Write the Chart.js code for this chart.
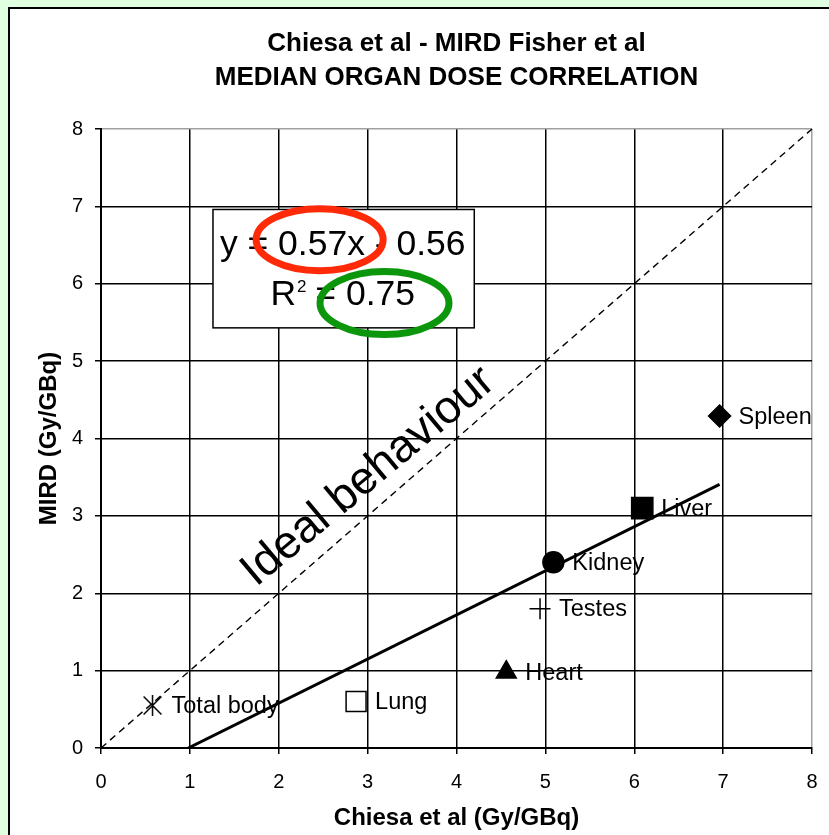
<!DOCTYPE html>
<html>
<head>
<meta charset="utf-8">
<script src="https://cdn.jsdelivr.net/npm/chart.js@4.4.1/dist/chart.umd.min.js"></script>
<style>
  html, body { margin: 0; padding: 0; background: #e0ffe0; overflow: hidden; }
  #panel { position: absolute; left: 8px; top: 7px; width: 900px; height: 900px;
           background: #fff; border-left: 2.5px solid #000; border-top: 2.5px solid #000; }
  #c { position: absolute; left: 0; top: 0; }
</style>
</head>
<body>
<div id="panel"></div>
<canvas id="c" width="829" height="835"></canvas>
<script>
// ---- data ----
const organs = ['Total body', 'Lung', 'Heart', 'Testes', 'Kidney', 'Liver', 'Spleen'];
const chiesaDose = [0.58, 2.87, 4.56, 4.94, 5.09, 6.09, 6.96];   // Gy/GBq
const mirdDose   = [0.55, 0.60, 0.98, 1.80, 2.40, 3.10, 4.29];   // Gy/GBq
const axisTicks  = [0, 1, 2, 3, 4, 5, 6, 7, 8];
const fitSlope = 0.57;
const fitIntercept = -0.56;
const fitR2 = 0.75;

// ---- marker styles ----
function asterisk(size, lw) {
  const c = document.createElement('canvas');
  c.width = size; c.height = size;
  const g = c.getContext('2d');
  const m = size / 2, a = size / 2 - 2;
  g.strokeStyle = '#000'; g.lineWidth = lw;
  g.beginPath();
  g.moveTo(m - a * 0.85, m - a * 0.85); g.lineTo(m + a * 0.85, m + a * 0.85);
  g.moveTo(m + a * 0.85, m - a * 0.85); g.lineTo(m - a * 0.85, m + a * 0.85);
  g.moveTo(m, m - a); g.lineTo(m, m + a);
  g.stroke();
  return c;
}
const markerStyle  = [asterisk(25, 1.5), 'rect', 'triangle', 'cross', 'circle', 'rect', 'rectRot'];
const markerRadius = [12, 14.1, 11.5, 10.5, 10.5, 15, 11];
const markerFill   = ['#000', '#fff', '#000', '#000', '#000', '#000', '#000'];

const axisMin = axisTicks[0], axisMax = axisTicks[axisTicks.length - 1];
const fitStart = -fitIntercept / fitSlope;
const fitEnd = Math.max(...chiesaDose);

// ---- annotation layout (data coordinates, pixel radii) ----
const noteBox = { x0: 1.26, x1: 4.20, y0: 6.96, y1: 5.43, cx: 2.72, base1: 6.37, base2: 5.72 };
const rings = [
  { x: 2.46, y: 6.57, rx: 63.5, ry: 31, color: '#ff2a08' },
  { x: 3.19, y: 5.75, rx: 64.5, ry: 31.5, color: '#0c960c' }
];
const idealText = { x: 3.10, y: 3.38, angle: -40, size: 46 };

const SANS = '"Liberation Sans", Arial, sans-serif';

const annotate = {
  id: 'annotate',
  afterDatasetsDraw(chart) {
    const ctx = chart.ctx, xs = chart.scales.x, ys = chart.scales.y;
    const X = v => xs.getPixelForValue(v), Y = v => ys.getPixelForValue(v);
    ctx.save();

    // organ labels beside each marker
    ctx.fillStyle = '#000';
    ctx.font = '23.5px ' + SANS;
    ctx.textAlign = 'left';
    ctx.textBaseline = 'middle';
    organs.forEach((name, i) => ctx.fillText(name, X(chiesaDose[i]) + 19, Y(mirdDose[i]) + 1));

    // diagonal caption
    ctx.save();
    ctx.translate(X(idealText.x), Y(idealText.y));
    ctx.rotate(idealText.angle * Math.PI / 180);
    ctx.font = idealText.size + 'px ' + SANS;
    ctx.textAlign = 'center';
    ctx.textBaseline = 'alphabetic';
    ctx.fillText('Ideal behaviour', 0, 0);
    ctx.restore();

    // regression equation box
    const bx0 = X(noteBox.x0), bx1 = X(noteBox.x1), by0 = Y(noteBox.y0), by1 = Y(noteBox.y1);
    ctx.fillStyle = '#fff';
    ctx.fillRect(bx0, by0, bx1 - bx0, by1 - by0);
    ctx.strokeStyle = '#000';
    ctx.lineWidth = 1.5;
    ctx.strokeRect(bx0, by0, bx1 - bx0, by1 - by0);

    ctx.fillStyle = '#000';
    ctx.textBaseline = 'alphabetic';
    ctx.textAlign = 'center';
    ctx.font = '35.5px ' + SANS;
    const sign = fitIntercept < 0 ? '-' : '+';
    ctx.fillText('y = ' + fitSlope.toFixed(2) + 'x ' + sign + ' ' + Math.abs(fitIntercept).toFixed(2),
                 X(noteBox.cx), Y(noteBox.base1));

    const rest = ' = ' + fitR2.toFixed(2);
    ctx.textAlign = 'left';
    const wR = ctx.measureText('R').width, wRest = ctx.measureText(rest).width;
    ctx.font = '17px ' + SANS;
    const wSup = ctx.measureText('2').width;
    const start = X(noteBox.cx) - (wR + wSup + wRest) / 2, b2 = Y(noteBox.base2);
    ctx.font = '35.5px ' + SANS;
    ctx.fillText('R', start, b2);
    ctx.fillText(rest, start + wR + wSup, b2);
    ctx.font = '17px ' + SANS;
    ctx.fillText('2', start + wR + 1, b2 - 13);

    // highlight rings
    ctx.lineWidth = 7;
    rings.forEach(r => {
      ctx.strokeStyle = r.color;
      ctx.beginPath();
      ctx.ellipse(X(r.x), Y(r.y), r.rx, r.ry, 0, 0, Math.PI * 2);
      ctx.stroke();
    });
    ctx.restore();
  }
};

const gridColor = c => (c.tick && c.tick.value === axisMax) ? '#a0a0a0' : '#000';

new Chart(document.getElementById('c'), {
  type: 'scatter',
  data: {
    datasets: [
      {
        label: 'Ideal',
        data: [{ x: axisMin, y: axisMin }, { x: axisMax, y: axisMax }],
        showLine: true, borderColor: '#000', borderWidth: 1.4, borderDash: [7, 5],
        pointRadius: 0, clip: false
      },
      {
        label: 'Fit',
        data: [fitStart, fitEnd].map(x => ({ x, y: fitSlope * x + fitIntercept })),
        showLine: true, borderColor: '#000', borderWidth: 3, pointRadius: 0
      },
      {
        label: 'Organs',
        data: organs.map((o, i) => ({ x: chiesaDose[i], y: mirdDose[i] })),
        pointStyle: markerStyle, pointRadius: markerRadius, pointHoverRadius: markerRadius,
        backgroundColor: markerFill, borderColor: '#000', borderWidth: 1.5
      }
    ]
  },
  options: {
    responsive: false,
    animation: false,
    devicePixelRatio: 1,
    layout: { padding: { left: 0, top: 0, right: 17, bottom: 0 } },
    plugins: {
      legend: { display: false },
      tooltip: { enabled: false },
      title: {
        display: true,
        fullSize: false,
        text: ['Chiesa et al - MIRD Fisher et al', 'MEDIAN ORGAN DOSE CORRELATION'],
        color: '#000',
        font: { family: SANS, size: 26, weight: 'bold', lineHeight: 34 / 26 },
        padding: { top: 27, bottom: 34 }
      }
    },
    scales: {
      x: {
        type: 'linear', min: axisMin, max: axisMax,
        afterBuildTicks: s => { s.ticks = axisTicks.map(v => ({ value: v })); },
        afterFit: s => { s.height = 87; s.paddingLeft = 0; s.paddingRight = 0; },
        ticks: { color: '#000', font: { family: SANS, size: 20 }, padding: 16 },
        grid: { color: gridColor, lineWidth: 1.5, tickLength: 6, tickColor: '#000', tickWidth: 1.5 },
        border: { color: '#000', width: 2 },
        title: { display: true, text: 'Chiesa et al (Gy/GBq)', color: '#000',
                 font: { family: SANS, size: 24, weight: 'bold' }, padding: { top: 0, bottom: 2 } }
      },
      y: {
        type: 'linear', min: axisMin, max: axisMax,
        afterBuildTicks: s => { s.ticks = axisTicks.map(v => ({ value: v })); },
        afterFit: s => { s.width = 101; },
        ticks: { color: '#000', font: { family: SANS, size: 20 }, padding: 12 },
        grid: { color: gridColor, lineWidth: 1.5, tickLength: 6, tickColor: '#000', tickWidth: 1.5 },
        border: { color: '#000', width: 2 },
        title: { display: true, text: 'MIRD (Gy/GBq)', color: '#000',
                 font: { family: SANS, size: 24, weight: 'bold' }, padding: { top: 35, bottom: 0 } }
      }
    }
  },
  plugins: [annotate]
});
</script>
</body>
</html>
